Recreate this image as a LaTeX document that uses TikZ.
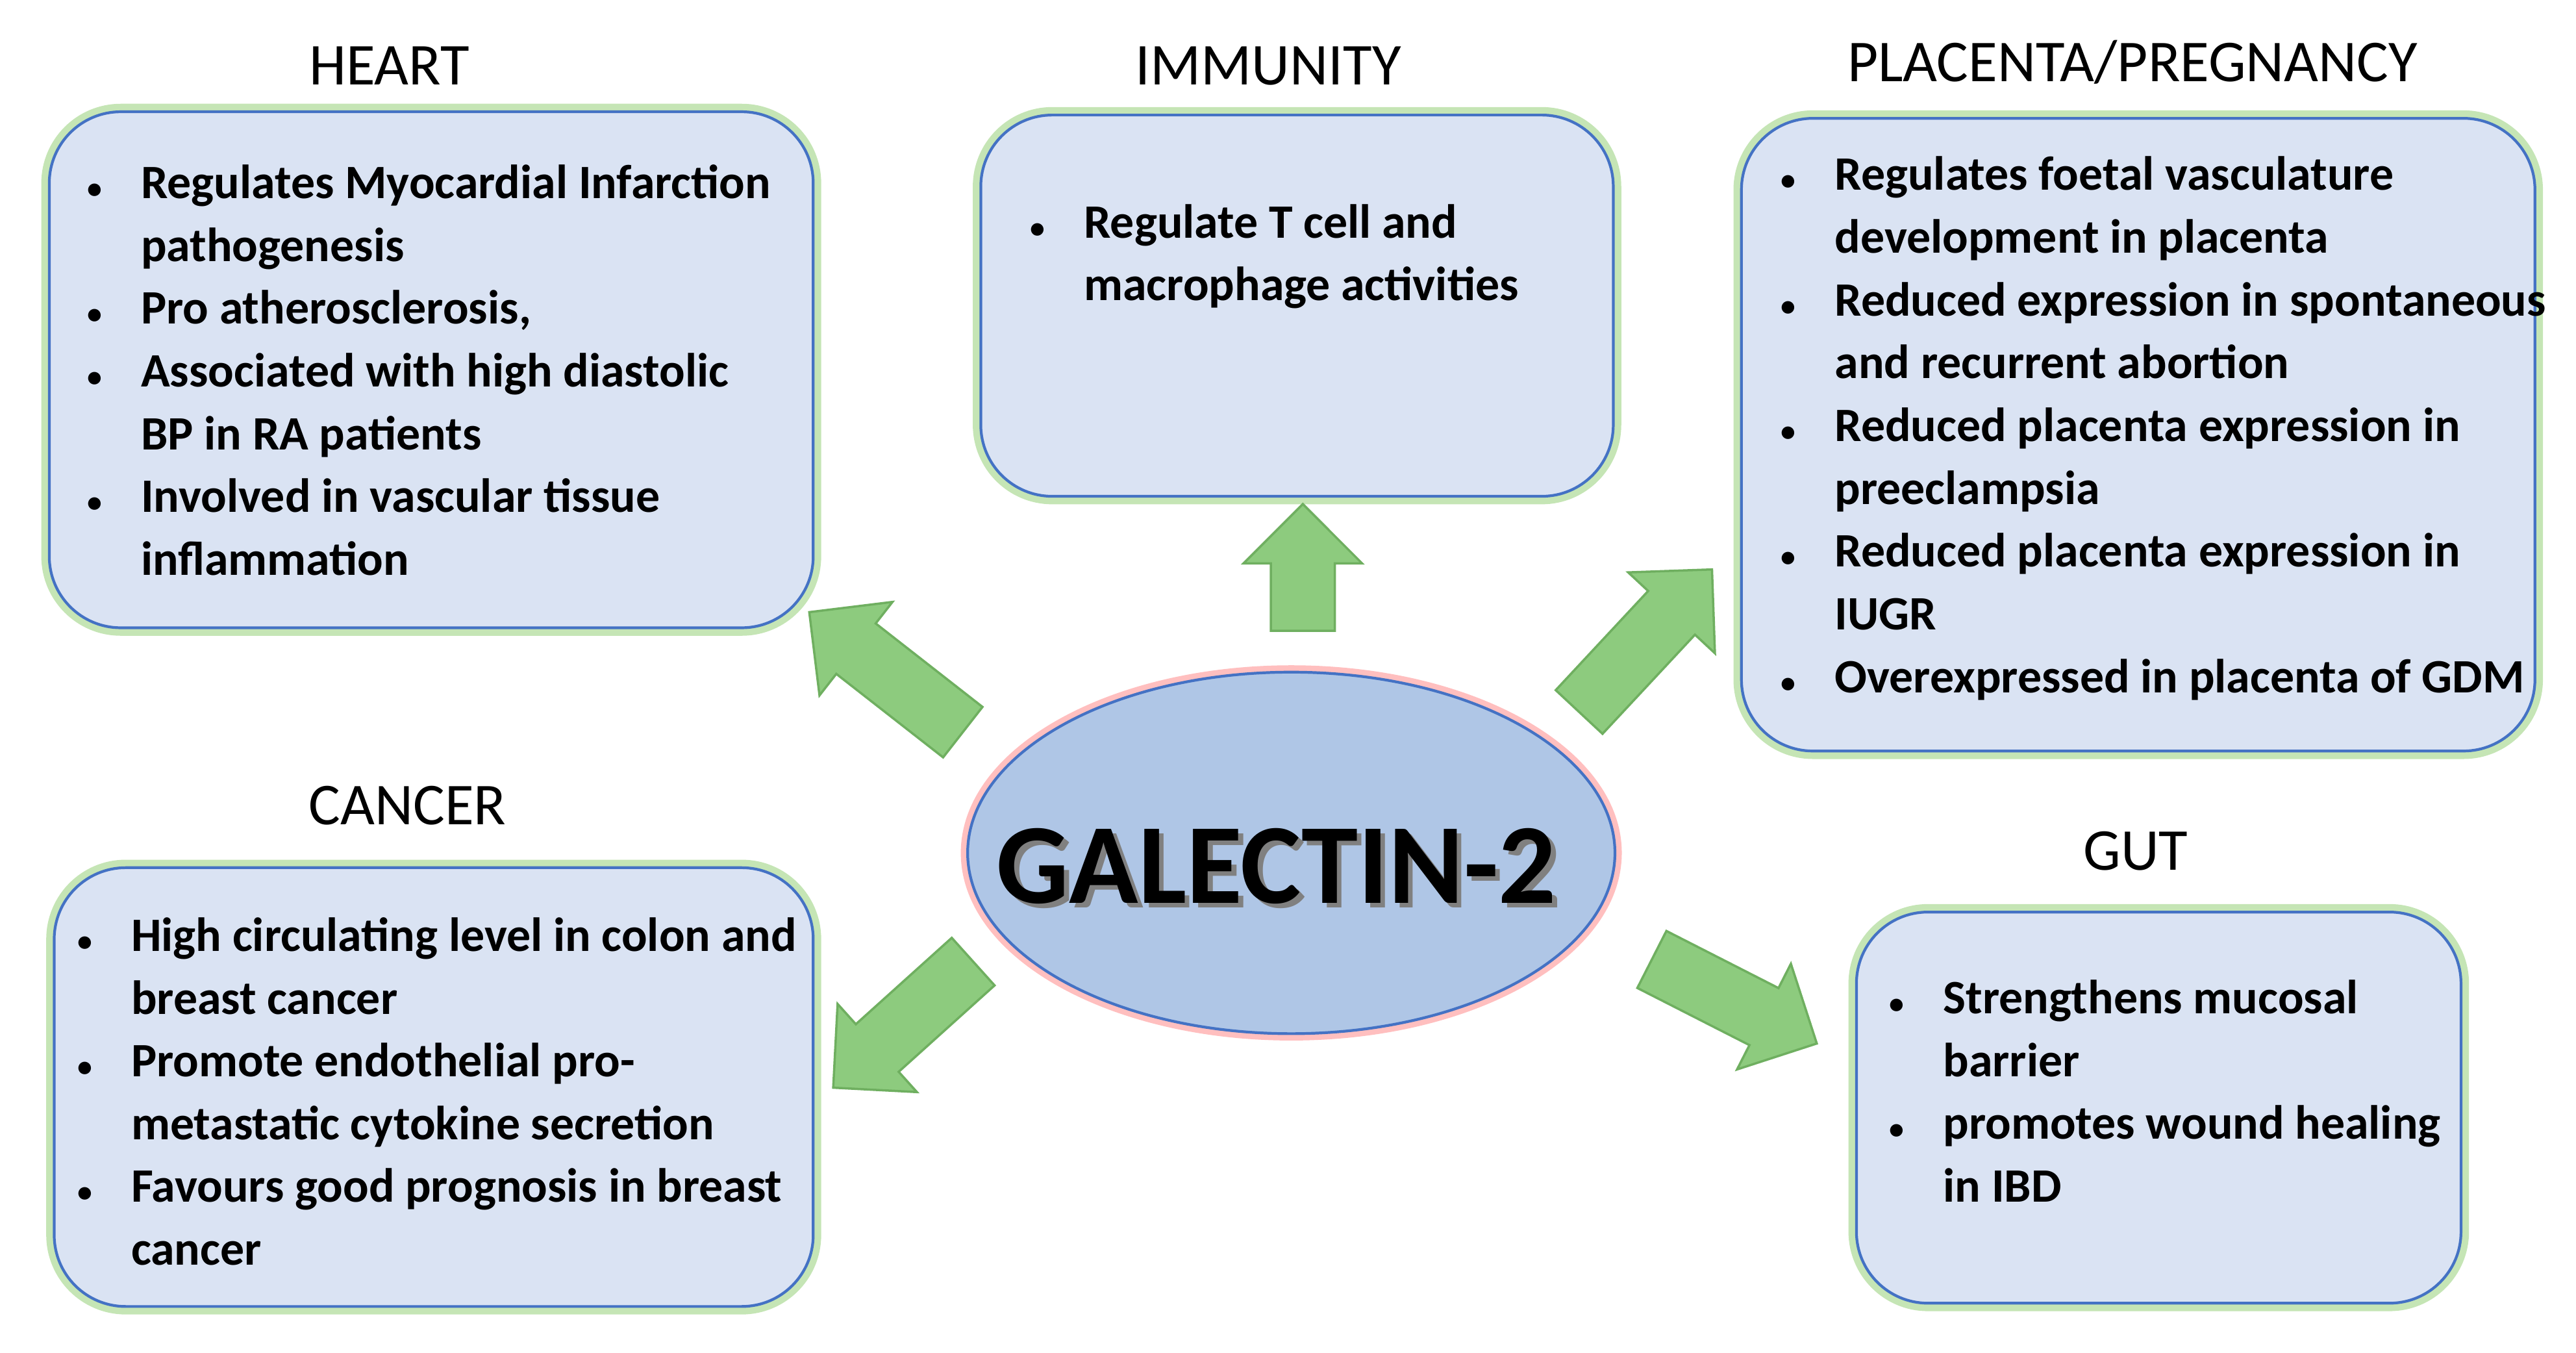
\documentclass[tikz,border=0pt]{standalone}
\usepackage{fontspec}
\setmainfont{Carlito}
\usepackage{enumitem}
\usetikzlibrary{shapes.arrows,shapes.geometric}
\definecolor{boxfill}{HTML}{DAE3F3}
\definecolor{boxline}{HTML}{4472C4}
\definecolor{glowg}{HTML}{C5E5B5}
\definecolor{ellfill}{HTML}{AFC6E6}
\definecolor{arrf}{HTML}{8DCB7E}
\definecolor{arrl}{HTML}{6FAF60}
\begin{document}
\begin{tikzpicture}[x=0.0253cm,y=-0.0253cm,
  box/.style={draw=boxline,line width=1.2pt,fill=boxfill,rounded corners=1.1cm},
  glow/.style={draw=glowg,line width=7pt,rounded corners=1.1cm},
  ttl/.style={font=\fontsize{26}{30}\selectfont},
  txt/.style={anchor=north west,inner sep=0pt,font=\fontsize{21}{27.5}\selectfont\bfseries},
  barr/.style={single arrow,draw=arrl,fill=arrf,line width=1pt,inner sep=0pt,single arrow head extend=0.42cm,single arrow tip angle=90}]
\useasboundingbox (0,0) rectangle (1568,823);
\newcommand{\blist}[2]{\begin{minipage}{#1}\raggedright\begin{itemize}[leftmargin=0.9cm,labelsep=0.6cm,nosep,label={\fontsize{13}{13}\selectfont\textbullet}]#2\end{itemize}\end{minipage}}
\newcommand{\shaft}{\rule{0pt}{0.95cm}}
% boxes
\foreach \a/\b/\c/\d in {30/68/495/382, 597/70/982/302, 1060/72/1543/457, 33/528/495/795, 1130/555/1498/793}{
  \draw[glow] (\a,\b) rectangle (\c,\d);
  \draw[box] (\a,\b) rectangle (\c,\d);}
\node[ttl] (th) at (237,40) {HEART};
\node[ttl] (ti) at (772,40) {IMMUNITY};
\node[ttl] (tp) at (1298,38) {PLACENTA/PREGNANCY};
\node[ttl] (tc) at (248,490) {CANCER};
\node[ttl] (tg) at (1300,518) {GUT};
\node[txt] (h) at (50,100) {\blist{12cm}{\item Regulates Myocardial Infarction\\ pathogenesis \item Pro atherosclerosis, \item Associated with high diastolic\\ BP in RA patients \item Involved in vascular tissue\\ inflammation}};
\node[txt] (i) at (624,124) {\blist{9cm}{\item Regulate T cell and\\ macrophage activities}};
\node[txt] (p) at (1081,95) {\blist{12.5cm}{\item Regulates foetal vasculature\\ development in placenta \item Reduced expression in spontaneous\\ and recurrent abortion \item Reduced placenta expression in\\ preeclampsia \item Reduced placenta expression in\\ IUGR \item Overexpressed in placenta of GDM}};
\node[txt] (c) at (44,558) {\blist{12cm}{\item High circulating level in colon and\\ breast cancer \item Promote endothelial pro-\\metastatic cytokine secretion \item Favours good prognosis in breast\\ cancer}};
\node[txt] (g) at (1147,596) {\blist{9cm}{\item Strengthens mucosal\\ barrier \item promotes wound healing\\ in IBD}};
% ellipse
\draw[red!25,line width=6pt] (786,519) ellipse [x radius=197,y radius=110];
\node[ellipse,draw=boxline,line width=1.2pt,fill=ellfill,minimum width=394*0.0253cm,minimum height=220*0.0253cm] (e) at (786,519) {};
\node[text=gray,font=\fontsize{50}{54}\selectfont\bfseries] (es) at (780,530) {GALECTIN-2};
\node[text=black,font=\fontsize{50}{54}\selectfont\bfseries] (et) at (777,527) {GALECTIN-2};
% arrows
\node[barr,rotate=142,minimum height=3.0cm] (a1) at (547,415) {\shaft};
\node[barr,rotate=90,minimum height=1.95cm] (a2) at (793,355) {\shaft};
\node[barr,rotate=47,minimum height=3.0cm] (a3) at (995,397) {\shaft};
\node[barr,rotate=222,minimum height=2.9cm] (a4) at (557,617) {\shaft};
\node[barr,rotate=-27,minimum height=2.85cm] (a5) at (1047,605) {\shaft};
\end{tikzpicture}
\end{document}
